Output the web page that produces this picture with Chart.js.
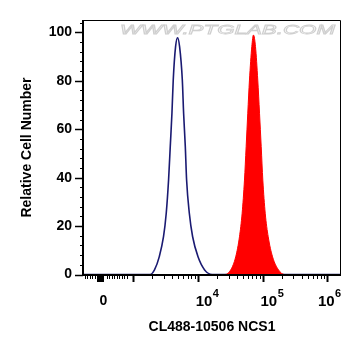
<!DOCTYPE html>
<html><head><meta charset="utf-8">
<script src="https://cdn.jsdelivr.net/npm/chart.js@4/dist/chart.umd.min.js"></script>
<style>html,body{margin:0;padding:0;background:#fff}#wrap{width:361px;height:356px;position:relative}</style>
</head><body><div id="wrap"><canvas id="c" width="361" height="356"></canvas></div>
<script>
const xTitle = 'CL488-10506 NCS1';
const yTitle = 'Relative Cell Number';
const watermark = 'WWW.PTGLAB.COM';

// x values in display units (decade position of a biexponential axis; "0" sits at 2.5)
const blueX = [2.23, 3.269, 3.335, 3.408, 3.474, 3.516, 3.552, 3.578, 3.604, 3.624, 3.660, 3.691,
               3.722, 3.764, 3.784, 3.810, 3.830, 3.872, 3.923, 4.006, 4.108, 4.223, 6.21];
const blueY = [0, 0, 1.9, 7.3, 15.6, 25.3, 39.0, 52.8, 66.6, 80.3, 94.1, 97.8,
               94.1, 80.3, 66.6, 52.8, 39.0, 25.3, 15.6, 7.3, 1.9, 0, 0];
const redX  = [2.23, 4.423, 4.510, 4.587, 4.645, 4.686, 4.722, 4.748, 4.773, 4.799, 4.835, 4.861,
               4.892, 4.927, 4.954, 4.980, 5.005, 5.042, 5.088, 5.155, 5.247, 5.34, 6.21];
const redY  = [0, 0, 1.9, 7.3, 15.6, 25.3, 39.0, 52.8, 66.6, 80.3, 94.1, 98.9,
               94.1, 80.3, 66.6, 52.8, 39.0, 25.3, 15.6, 7.3, 1.9, 0, 0];

const yTicks = [0, 20, 40, 60, 80, 100];
const yMinorTicks = [4, 8, 12, 16, 24, 28, 32, 36, 44, 48, 52, 56, 64, 68, 72, 76, 84, 88, 92, 96, 104];
const xLabelTicks = [2.5, 4, 5, 6];
const xLabelBase = ['0', '10', '10', '10'];
const xLabelExp = ['', '4', '5', '6'];
const xMajorTicks = [2.5, 3, 4, 5, 6];
const xLinearMinor = [2.264, 2.301, 2.338, 2.376, 2.413, 2.600, 2.638, 2.677, 2.716, 2.754, 2.793, 2.831, 2.870, 2.909];
const xMinorTicks = xLinearMinor.slice();
[3, 4, 5].forEach(d => { for (let k = 2; k <= 9; k++) xMinorTicks.push(d + Math.log10(k)); });

const FONT = '"Liberation Sans", Arial, sans-serif';

const decor = {
  id: 'decor',
  beforeDatasetsDraw(chart) {
    const ctx = chart.ctx;
    ctx.save();
    ctx.font = 'italic 13px ' + FONT;
    const w = ctx.measureText(watermark).width;
    ctx.translate(120, 34);
    ctx.scale(215 / w, 1);
    ctx.fillStyle = '#ffffff';
    ctx.fillText(watermark, 0, 0);
    ctx.strokeStyle = '#cfcfcf';
    ctx.lineWidth = 0.8;
    ctx.strokeText(watermark, 0, 0);
    ctx.restore();
  },
  afterDatasetsDraw(chart) {
    const ctx = chart.ctx;
    const a = chart.chartArea;
    const xs = chart.scales.x, ys = chart.scales.y;
    ctx.save();
    ctx.strokeStyle = '#000';
    ctx.lineWidth = 1;
    ctx.beginPath();
    ctx.moveTo(a.left, a.top + 0.5); ctx.lineTo(a.right - 0.5, a.top + 0.5); ctx.lineTo(a.right - 0.5, a.bottom);
    ctx.stroke();
    ctx.lineWidth = 2;
    ctx.beginPath();
    ctx.moveTo(a.left, a.top); ctx.lineTo(a.left, a.bottom); ctx.lineTo(a.right, a.bottom);
    ctx.stroke();
    ctx.lineWidth = 1.5;
    yTicks.forEach(v => { const p = Math.round(ys.getPixelForValue(v)) + 0.5; ctx.beginPath(); ctx.moveTo(a.left - 8, p); ctx.lineTo(a.left, p); ctx.stroke(); });
    ctx.lineWidth = 1;
    yMinorTicks.forEach(v => { const p = Math.round(ys.getPixelForValue(v)) + 0.5; ctx.beginPath(); ctx.moveTo(a.left - 3, p); ctx.lineTo(a.left, p); ctx.stroke(); });
    const yb = a.bottom;
    xMajorTicks.forEach(v => {
      const p = Math.round(xs.getPixelForValue(v)) + 0.5;
      ctx.lineWidth = v === 2.5 ? 7 : 2;
      ctx.beginPath(); ctx.moveTo(p, yb); ctx.lineTo(p, yb + 7); ctx.stroke();
    });
    ctx.lineWidth = 1;
    xMinorTicks.forEach(v => {
      const p = Math.round(xs.getPixelForValue(v)) + 0.5;
      ctx.beginPath(); ctx.moveTo(p, yb); ctx.lineTo(p, yb + 4); ctx.stroke();
    });
    ctx.fillStyle = '#000';
    ctx.textBaseline = 'alphabetic';
    const shifts = [3, -2, -2, -9.5];
    xLabelTicks.forEach((v, i) => {
      const p = xs.getPixelForValue(v);
      if (!xLabelExp[i]) {
        ctx.font = 'bold 14px ' + FONT;
        ctx.textAlign = 'center';
        ctx.fillText(xLabelBase[i], p + shifts[i], 305);
      } else {
        ctx.font = 'bold 15px ' + FONT;
        ctx.textAlign = 'left';
        const x0 = p + shifts[i];
        ctx.fillText(xLabelBase[i], x0, 306);
        const bw = ctx.measureText(xLabelBase[i]).width;
        ctx.font = 'bold 11px ' + FONT;
        ctx.fillText(xLabelExp[i], x0 + bw + 0.5, 296.5);
      }
    });
    ctx.restore();
  }
};

new Chart(document.getElementById('c'), {
  type: 'line',
  data: {
    datasets: [
      { data: redX.map((x, i) => ({x, y: redY[i]})), borderColor: '#ff0000', backgroundColor: '#ff0000',
        fill: 'origin', borderWidth: 1, pointRadius: 0, cubicInterpolationMode: 'monotone' },
      { data: blueX.map((x, i) => ({x, y: blueY[i]})), borderColor: '#1a1a72', backgroundColor: 'transparent',
        fill: false, borderWidth: 1.6, pointRadius: 0, cubicInterpolationMode: 'monotone' }
    ]
  },
  options: {
    responsive: false, animation: false, devicePixelRatio: 1,
    layout: { padding: { top: 20, right: 20, left: 0, bottom: 0 } },
    plugins: { legend: { display: false }, tooltip: { enabled: false } },
    scales: {
      x: {
        type: 'linear', min: 2.233, max: 6.21,
        ticks: { display: false },
        grid: { display: false }, border: { display: false },
        title: { display: true, text: xTitle, color: '#000', font: { family: FONT, size: 14, weight: 'bold' }, padding: { top: 0, bottom: 20 } },
        afterFit: s => { s.height = 81; }
      },
      y: {
        type: 'linear', min: -0.2, max: 105.1,
        afterBuildTicks: s => { s.ticks = yTicks.map(v => ({value: v})); },
        ticks: { color: '#000', font: { family: FONT, size: 14, weight: 'bold' }, padding: 3 },
        grid: { display: true, drawOnChartArea: false, drawTicks: true, tickLength: 8, color: 'rgba(0,0,0,0)' },
        border: { display: false },
        title: { display: true, text: yTitle, color: '#000', font: { family: FONT, size: 14, weight: 'bold' }, padding: { top: 19, bottom: 0 } },
        afterFit: s => { s.width = 83; }
      }
    }
  },
  plugins: [decor]
});
</script>
</body></html>
